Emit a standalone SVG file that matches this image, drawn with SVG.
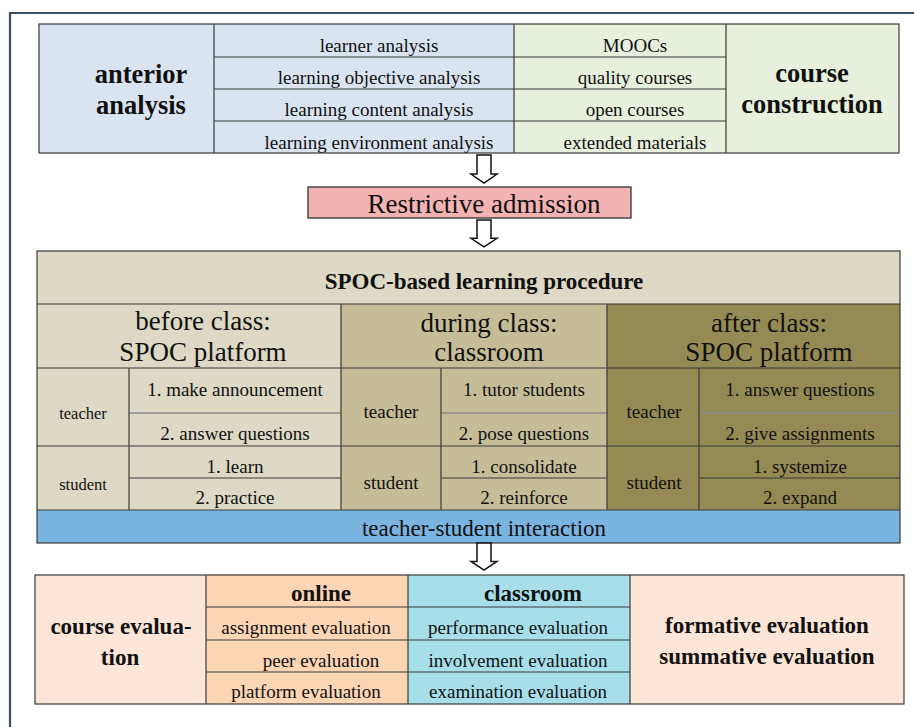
<svg xmlns="http://www.w3.org/2000/svg" width="914" height="727" viewBox="0 0 914 727">
<style>
text{font-family:"Liberation Serif","Times New Roman",serif;fill:#111;text-anchor:middle}
.it{font-size:19px}
.b{font-weight:bold}
.hd{font-size:27px}
.ln{stroke:#3a3a3a;stroke-width:1.2;fill:none}
.lt{stroke:#8c8c8c;stroke-width:1.5;fill:none}
.arrow{fill:#fff;stroke:#111;stroke-width:1.5;stroke-linejoin:miter}
</style>
<defs>
<path id="darr" d="M-7,0 H7 V19 H13 L0,28 L-13,19 H-7 Z"/>
</defs>
<g id="frame">
<path d="M10,727 V13 H914" fill="none" stroke="#3b4d63" stroke-width="2.2"/>
</g>

<g id="anterior-analysis">
<rect x="39" y="24" width="175" height="129" fill="#dae4f0"/>
<text class="b" style="font-size:26.5px" x="141" y="83">anterior</text>
<text class="b" style="font-size:26.5px" x="141" y="114">analysis</text>
</g>
<g id="analysis-items">
<rect x="214" y="24" width="300" height="129" fill="#dae4f0"/>
<text class="it" x="379" y="52">learner analysis</text>
<text class="it" x="379" y="84">learning objective analysis</text>
<text class="it" x="379" y="116">learning content analysis</text>
<text class="it" x="379" y="149">learning environment analysis</text>
</g>
<g id="course-items">
<rect x="514" y="24" width="212" height="129" fill="#e7f0dc"/>
<text class="it" x="635" y="52">MOOCs</text>
<text class="it" x="635" y="84">quality courses</text>
<text class="it" x="635" y="116">open courses</text>
<text class="it" x="635" y="149">extended materials</text>
</g>
<g id="course-construction">
<rect x="726" y="24" width="173" height="129" fill="#e7f0dc"/>
<text class="b" style="font-size:26.5px" x="812" y="82">course</text>
<text class="b" style="font-size:26.5px" x="812" y="113">construction</text>
</g>
<g id="top-grid">
<rect class="ln" x="39" y="24" width="860" height="129"/>
<path class="ln" d="M214,24 V153 M514,24 V153 M726,24 V153 M214,57 H726 M214,89 H726 M214,121 H726"/>
</g>

<g id="restrictive-admission">
<rect x="308" y="187" width="323" height="31" fill="#f3b3b3" stroke="#222" stroke-width="1.2"/>
<text class="hd" x="484" y="213">Restrictive admission</text>
</g>

<g id="spoc-procedure">
<rect x="37" y="251" width="863" height="53" fill="#ddd9c4"/>
<text class="b" style="font-size:23px" x="484" y="289">SPOC-based learning procedure</text>
</g>
<g id="before-class">
<rect x="37" y="304" width="304" height="206" fill="#ddd9c4"/>
<text class="hd" x="203" y="330">before class:</text>
<text class="hd" x="203" y="361">SPOC platform</text>
<text style="font-size:16.5px" x="83" y="419">teacher</text>
<text style="font-size:16.5px" x="83" y="490">student</text>
<text class="it" x="235" y="396">1. make announcement</text>
<text class="it" x="235" y="440">2. answer questions</text>
<text class="it" x="235" y="473">1. learn</text>
<text class="it" x="235" y="504">2. practice</text>
</g>
<g id="during-class">
<rect x="341" y="304" width="266" height="206" fill="#c5bd97"/>
<text class="hd" x="489" y="332">during class:</text>
<text class="hd" x="489" y="361">classroom</text>
<text class="it" x="391" y="418">teacher</text>
<text class="it" x="391" y="489">student</text>
<text class="it" x="524" y="396">1. tutor students</text>
<text class="it" x="524" y="440">2. pose questions</text>
<text class="it" x="524" y="473">1. consolidate</text>
<text class="it" x="524" y="504">2. reinforce</text>
</g>
<g id="after-class">
<rect x="607" y="304" width="293" height="206" fill="#958a53"/>
<text class="hd" x="769" y="332">after class:</text>
<text class="hd" x="769" y="361">SPOC platform</text>
<text class="it" x="654" y="418">teacher</text>
<text class="it" x="654" y="489">student</text>
<text class="it" x="800" y="396">1. answer questions</text>
<text class="it" x="800" y="440">2. give assignments</text>
<text class="it" x="800" y="473">1. systemize</text>
<text class="it" x="800" y="504">2. expand</text>
</g>
<g id="interaction">
<rect x="37" y="510" width="863" height="33" fill="#7ab4e1"/>
<text style="font-size:23px" x="484" y="536">teacher-student interaction</text>
</g>
<g id="spoc-grid">
<path class="lt" d="M129,413 H341 M441,413 H607 M699,413 H900"/>
<rect class="ln" x="37" y="251" width="863" height="292"/>
<path class="ln" d="M37,304 H900 M37,368 H900 M37,446 H900 M37,510 H900 M341,304 V510 M607,304 V510 M129,368 V510 M441,368 V510 M699,368 V510 M129,478 H341 M441,478 H607 M699,478 H900"/>
</g>

<g id="course-evaluation">
<rect x="35" y="575" width="171" height="129" fill="#fde6d8"/>
<text class="b" style="font-size:23px" x="121" y="634">course evalua-</text>
<text class="b" style="font-size:23px" x="120" y="665">tion</text>
</g>
<g id="online">
<rect x="206" y="575" width="202" height="129" fill="#fcd5b5"/>
<text class="b" style="font-size:23px" x="321" y="601">online</text>
<text class="it" x="306" y="634">assignment evaluation</text>
<text class="it" x="321" y="667">peer evaluation</text>
<text class="it" x="306" y="698">platform evaluation</text>
</g>
<g id="classroom">
<rect x="408" y="575" width="222" height="129" fill="#a6dfea"/>
<text class="b" style="font-size:23px" x="533" y="601">classroom</text>
<text class="it" x="518" y="634">performance evaluation</text>
<text class="it" x="518" y="667">involvement evaluation</text>
<text class="it" x="518" y="698">examination evaluation</text>
</g>
<g id="evaluation-types">
<rect x="630" y="575" width="274" height="129" fill="#fde6d8"/>
<text class="b" style="font-size:23px" x="767" y="633">formative evaluation</text>
<text class="b" style="font-size:23px" x="767" y="664">summative evaluation</text>
</g>
<g id="bottom-grid">
<rect class="ln" x="35" y="575" width="869" height="129"/>
<path class="ln" d="M206,575 V704 M408,575 V704 M630,575 V704 M206,607 H630 M206,640 H630 M206,672 H630"/>
</g>

<g id="connectors">
<use href="#darr" class="arrow" transform="translate(484,155)"/>
<use href="#darr" class="arrow" transform="translate(484,220) scale(1,0.96)"/>
<use href="#darr" class="arrow" transform="translate(484,543) scale(1,0.97)"/>
</g>
</svg>
